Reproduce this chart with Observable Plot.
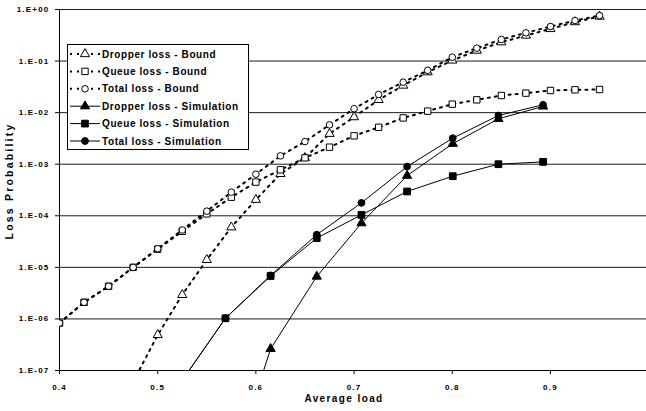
<!DOCTYPE html>
<html><head><meta charset="utf-8">
<script src="https://cdn.jsdelivr.net/npm/d3@7"></script>
<script src="https://cdn.jsdelivr.net/npm/@observablehq/plot@0.6"></script>
<style>
html,body{margin:0;padding:0;background:#fff;}
#chart svg{display:block;}
</style>
</head><body><div id="chart"></div>
<script>
// ---- data ----
const boundLoad = [0.4, 0.425, 0.45, 0.475, 0.5, 0.525, 0.55, 0.575, 0.6, 0.625, 0.65, 0.675, 0.7, 0.725, 0.75, 0.775, 0.8, 0.825, 0.85, 0.875, 0.9, 0.925, 0.95];
const dropperBound = [null, null, null, 6e-8, 4.9e-7, 2.93e-6, 1.4e-5, 6.0e-5, 2.05e-4, 6.5e-4, 1.33e-3, 3.9e-3, 8.2e-3, 1.77e-2, 3.36e-2, 6.1e-2, 0.103, 0.16, 0.232, 0.313, 0.42, 0.57, 0.73];
const queueBound = [8.3e-7, 2.1e-6, 4.3e-6, 1.0e-5, 2.25e-5, 5.0e-5, 1.09e-4, 2.29e-4, 4.5e-4, 7.8e-4, 1.33e-3, 2.14e-3, 3.55e-3, 5.2e-3, 7.9e-3, 1.07e-2, 1.46e-2, 1.77e-2, 2.15e-2, 2.39e-2, 2.69e-2, 2.77e-2, 2.81e-2];
const totalBound = [8.3e-7, 2.1e-6, 4.3e-6, 1.0e-5, 2.3e-5, 5.3e-5, 1.23e-4, 2.87e-4, 6.4e-4, 1.45e-3, 2.75e-3, 5.8e-3, 1.19e-2, 2.25e-2, 3.9e-2, 6.6e-2, 0.119, 0.178, 0.262, 0.353, 0.468, 0.61, 0.765];

const simLoad = [0.523, 0.569, 0.615, 0.662, 0.7075, 0.754, 0.8005, 0.847, 0.8925];
const dropperSim = [null, 5e-10, 2.63e-7, 6.65e-6, 7.2e-5, 6.0e-4, 2.5e-3, 7.6e-3, 1.32e-2];
const queueSim = [5.7e-8, 1.03e-6, 6.8e-6, 3.7e-5, 1.04e-4, 2.96e-4, 5.86e-4, 1.0e-3, 1.11e-3];
const totalSim = [5.7e-8, 1.03e-6, 7.0e-6, 4.3e-5, 1.78e-4, 9.0e-4, 3.2e-3, 8.8e-3, 1.42e-2];

const yTicks = [1, 1e-1, 1e-2, 1e-3, 1e-4, 1e-5, 1e-6, 1e-7];
const xTicks = [0.4, 0.5, 0.6, 0.7, 0.8, 0.9];
const seriesNames = ["Dropper loss - Bound", "Queue loss - Bound", "Total loss - Bound", "Dropper loss - Simulation", "Queue loss - Simulation", "Total loss - Simulation"];
const xLabel = "Average load";
const yLabel = "Loss Probability";

// ---- build series ----
const series = [
  {name: seriesNames[0], xs: boundLoad, ys: dropperBound, symbol: "triangle", r: 3.4, hollow: true},
  {name: seriesNames[1], xs: boundLoad, ys: queueBound, symbol: "square", r: 3.6, hollow: true},
  {name: seriesNames[2], xs: boundLoad, ys: totalBound, symbol: "circle", r: 3.3, hollow: true},
  {name: seriesNames[3], xs: simLoad, ys: dropperSim, symbol: "triangle", r: 3.4, hollow: false},
  {name: seriesNames[4], xs: simLoad, ys: queueSim, symbol: "square", r: 3.8, hollow: false},
  {name: seriesNames[5], xs: simLoad, ys: totalSim, symbol: "circle", r: 3.4, hollow: false}
].map(s => ({...s, data: s.xs.map((x, i) => ({x, y: s.ys[i]}))}));

const FONT = "Arial, 'Liberation Sans', Helvetica, sans-serif";
const DASH = "2,5";
const fmtExp = d => { const e = Math.round(Math.log10(d)); return "1.E" + (e < 0 ? "-" : "+") + String(Math.abs(e)).padStart(2, "0"); };

const marks = [
  Plot.ruleY(yTicks.slice(0, -1), {stroke: "#1a1a1a", strokeWidth: 1}),
  Plot.ruleY([1e-7], {stroke: "#000", strokeWidth: 1}),
  Plot.ruleX([0.4], {stroke: "#000", strokeWidth: 1}),
  Plot.axisY(yTicks, {tickFormat: fmtExp, tickSize: 4, tickPadding: 6, label: null}),
  Plot.axisX(xTicks, {tickFormat: d => d.toFixed(1), tickSize: 4, tickPadding: 10, label: null})
];
for (const s of series) {
  marks.push(Plot.line(s.data, {x: "x", y: "y", stroke: "#000", strokeWidth: s.hollow ? 2 : 1, strokeDasharray: s.hollow ? DASH : null, clip: true}));
}
for (const s of series) {
  marks.push(Plot.dot(s.data, {x: "x", y: "y", symbol: s.symbol, r: s.r, fill: s.hollow ? "#fff" : "#000", stroke: "#000", strokeWidth: 1, clip: true}));
}
marks.push(Plot.text([xLabel], {frameAnchor: "bottom", dy: 31, dx: -9, fontSize: 10, fontWeight: "bold"}));
marks.push(Plot.text([yLabel], {frameAnchor: "left", textAnchor: "middle", rotate: -90, dx: -50, dy: -9, fontSize: 10.5, fontWeight: "bold"}));

const chart = Plot.plot({
  width: 646, height: 411,
  marginLeft: 59, marginRight: 0, marginTop: 9, marginBottom: 41,
  x: {domain: [0.4, 0.9978]},
  y: {type: "log", domain: [1e-7, 1]},
  style: {fontFamily: FONT, fontSize: "8px", fontWeight: "bold", letterSpacing: "1.2px", background: "#fff", color: "#000"},
  marks
});
document.getElementById("chart").appendChild(chart);

const svg = d3.select(chart);
svg.selectAll("text").filter(function() { return this.textContent === xLabel; }).style("letter-spacing", "1.4px");
svg.selectAll("text").filter(function() { return this.textContent === yLabel; }).style("letter-spacing", "2.2px");

// ---- legend (drawn inside the plot frame) ----
const lg = svg.append("g").attr("font-size", 10).attr("font-weight", "bold").attr("text-anchor", "start").style("letter-spacing", "0.6px");
lg.append("rect").attr("x", 67.5).attr("y", 44.5).attr("width", 181).attr("height", 105).attr("fill", "#fff").attr("stroke", "#000");
const symType = {triangle: d3.symbolTriangle, square: d3.symbolSquare, circle: d3.symbolCircle};
series.forEach((s, i) => {
  const y = 54 + i * 17.4;
  lg.append("line").attr("x1", 70).attr("x2", 100).attr("y1", y).attr("y2", y)
    .attr("stroke", "#000").attr("stroke-width", s.hollow ? 2 : 1).attr("stroke-dasharray", s.hollow ? DASH : null);
  lg.append("path").attr("transform", `translate(85,${y})`)
    .attr("d", d3.symbol(symType[s.symbol], Math.PI * s.r * s.r)())
    .attr("fill", s.hollow ? "#fff" : "#000").attr("stroke", "#000");
  lg.append("text").attr("x", 102).attr("y", y).attr("dy", "0.35em").attr("fill", "#000").text(s.name);
});
</script>
</body></html>
